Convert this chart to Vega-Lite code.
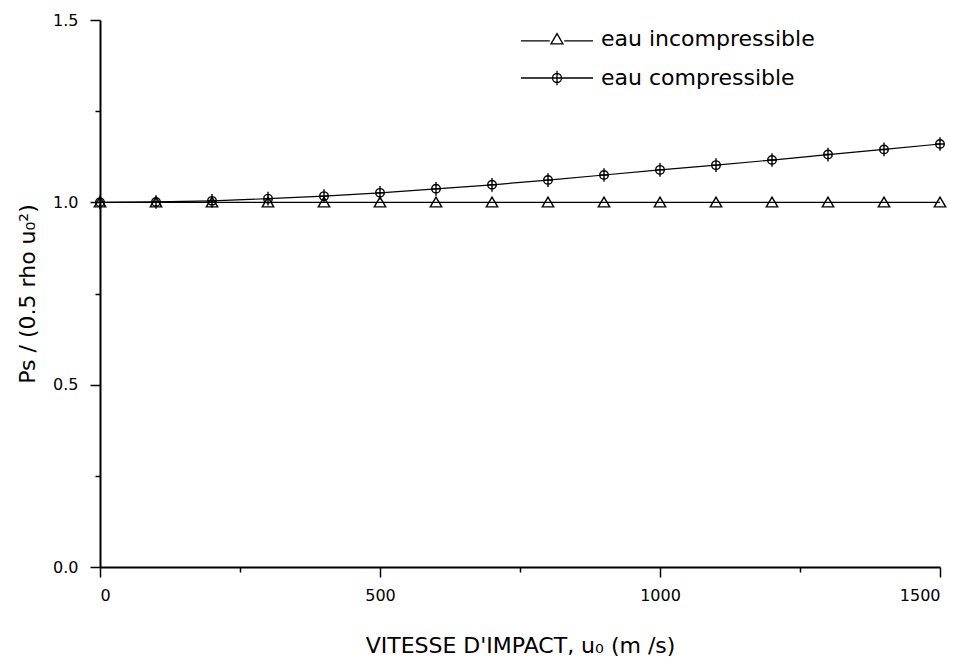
{
  "$schema": "https://vega.github.io/schema/vega-lite/v6.json",
  "width": 840,
  "height": 547,
  "autosize": {"type": "none"},
  "padding": {"left": 100, "top": 20, "right": 28, "bottom": 99},
  "background": "white",
  "config": {
    "view": {"stroke": null},
    "font": "DejaVu Sans",
    "axis": {
      "grid": false,
      "domainColor": "black",
      "domainWidth": 2,
      "tickColor": "black",
      "tickWidth": 1.5,
      "labelColor": "black",
      "labelFont": "DejaVu Sans",
      "labelFontSize": 16,
      "titleColor": "black",
      "titleFont": "DejaVu Sans",
      "titleFontSize": 22,
      "titleFontWeight": "normal"
    },
    "legend": {
      "title": null,
      "orient": "none",
      "padding": 0,
      "symbolSize": 144,
      "symbolFillColor": "transparent",
      "symbolStrokeColor": "black",
      "symbolStrokeWidth": 1.3,
      "labelFont": "DejaVu Sans",
      "labelFontSize": 22,
      "labelColor": "black",
      "labelLimit": 500,
      "labelOffset": 33
    }
  },
  "data": {
    "values": [
      {"v": 0, "p": 1.0, "s": "eau incompressible"},
      {"v": 100, "p": 1.0, "s": "eau incompressible"},
      {"v": 200, "p": 1.0, "s": "eau incompressible"},
      {"v": 300, "p": 1.0, "s": "eau incompressible"},
      {"v": 400, "p": 1.0, "s": "eau incompressible"},
      {"v": 500, "p": 1.0, "s": "eau incompressible"},
      {"v": 600, "p": 1.0, "s": "eau incompressible"},
      {"v": 700, "p": 1.0, "s": "eau incompressible"},
      {"v": 800, "p": 1.0, "s": "eau incompressible"},
      {"v": 900, "p": 1.0, "s": "eau incompressible"},
      {"v": 1000, "p": 1.0, "s": "eau incompressible"},
      {"v": 1100, "p": 1.0, "s": "eau incompressible"},
      {"v": 1200, "p": 1.0, "s": "eau incompressible"},
      {"v": 1300, "p": 1.0, "s": "eau incompressible"},
      {"v": 1400, "p": 1.0, "s": "eau incompressible"},
      {"v": 1500, "p": 1.0, "s": "eau incompressible"},
      {"v": 0, "p": 1.0, "s": "eau compressible"},
      {"v": 100, "p": 1.001, "s": "eau compressible"},
      {"v": 200, "p": 1.004, "s": "eau compressible"},
      {"v": 300, "p": 1.01, "s": "eau compressible"},
      {"v": 400, "p": 1.017, "s": "eau compressible"},
      {"v": 500, "p": 1.026, "s": "eau compressible"},
      {"v": 600, "p": 1.037, "s": "eau compressible"},
      {"v": 700, "p": 1.048, "s": "eau compressible"},
      {"v": 800, "p": 1.061, "s": "eau compressible"},
      {"v": 900, "p": 1.075, "s": "eau compressible"},
      {"v": 1000, "p": 1.089, "s": "eau compressible"},
      {"v": 1100, "p": 1.102, "s": "eau compressible"},
      {"v": 1200, "p": 1.116, "s": "eau compressible"},
      {"v": 1300, "p": 1.131, "s": "eau compressible"},
      {"v": 1400, "p": 1.145, "s": "eau compressible"},
      {"v": 1500, "p": 1.16, "s": "eau compressible"}
    ]
  },
  "encoding": {
    "x": {
      "field": "v",
      "type": "quantitative",
      "scale": {"domain": [0, 1500], "nice": false, "zero": false},
      "axis": {
        "title": "VITESSE D'IMPACT, u₀ (m /s)",
        "values": [0, 250, 500, 750, 1000, 1250, 1500],
        "labelExpr": "datum.value % 500 === 0 ? format(datum.value, 'd') : ''",
        "tickSize": {"condition": {"test": "datum.value % 500 === 0", "value": 10}, "value": 5},
        "labelPadding": 10,
        "titlePadding": 32
      }
    },
    "y": {
      "field": "p",
      "type": "quantitative",
      "scale": {"domain": [0, 1.5], "nice": false, "zero": false},
      "axis": {
        "title": "Ps / (0.5 rho u₀²)",
        "values": [0, 0.25, 0.5, 0.75, 1.0, 1.25, 1.5],
        "labelExpr": "abs(datum.value * 2 - round(datum.value * 2)) < 0.000001 ? format(datum.value, '.1f') : ''",
        "tickSize": {"condition": {"test": "abs(datum.value * 2 - round(datum.value * 2)) < 0.000001", "value": 10}, "value": 5},
        "labelPadding": 12,
        "titlePadding": 13
      }
    }
  },
  "layer": [
    {
      "transform": [{"filter": "datum.s === 'eau incompressible'"}],
      "mark": {"type": "line", "strokeWidth": 1.2},
      "encoding": {
        "color": {
          "field": "s",
          "type": "nominal",
          "scale": {"domain": ["eau incompressible"], "range": ["black"]},
          "legend": {
            "legendX": 446,
            "legendY": 8,
            "symbolType": "M -6 0.3 L -1.2 0.3 M 1.2 0.3 L 6 0.3 M 0 -0.9 L 1 0.8 L -1 0.8 Z"
          }
        }
      }
    },
    {
      "transform": [{"filter": "datum.s === 'eau compressible'"}],
      "mark": {"type": "line", "strokeWidth": 1.2},
      "encoding": {
        "stroke": {
          "field": "s",
          "type": "nominal",
          "scale": {"domain": ["eau compressible"], "range": ["black"]},
          "legend": {
            "legendX": 446,
            "legendY": 47,
            "symbolType": "M -6 0 L -0.75 0 M 0.75 0 L 6 0 M 0 -1.2 L 0 1.2 M -0.85 0 L 0.85 0 M -0.75 0 A 0.75 0.75 0 1 1 0.75 0 A 0.75 0.75 0 1 1 -0.75 0 Z"
          }
        }
      }
    },
    {
      "transform": [{"filter": "datum.s === 'eau incompressible'"}],
      "mark": {
        "type": "point",
        "filled": false,
        "color": "black",
        "strokeWidth": 1.4,
        "size": 130,
        "opacity": 1,
        "shape": "M 0 -0.9 L 1 0.8 L -1 0.8 Z"
      }
    },
    {
      "transform": [{"filter": "datum.s === 'eau compressible'"}],
      "mark": {
        "type": "point",
        "filled": false,
        "color": "black",
        "strokeWidth": 1.4,
        "size": 130,
        "opacity": 1,
        "shape": "M 0 -1.2 L 0 1.2 M -0.85 0 L 0.85 0 M -0.75 0 A 0.75 0.75 0 1 1 0.75 0 A 0.75 0.75 0 1 1 -0.75 0 Z"
      }
    }
  ]
}
